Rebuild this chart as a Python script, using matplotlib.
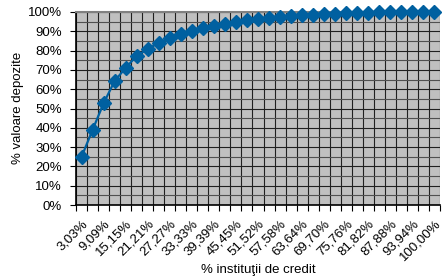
import numpy as np
import matplotlib.pyplot as plt
from matplotlib.ticker import MultipleLocator, FixedLocator
import matplotlib.transforms as mtransforms

plt.rcParams['font.family'] = ['Liberation Sans', 'DejaVu Sans']

# x categories: share of credit institutions (1/33 ... 33/33)
n_inst = 33
categories = [f"{100 * (i + 1) / n_inst:.2f}%".replace('.', ',') for i in range(n_inst)]

# cumulative share of deposit value (%)
deposit_share = [24.9, 38.9, 52.7, 64.2, 71.1, 77.2, 80.8, 84.1, 86.5, 88.5,
                 90.3, 91.8, 93.0, 94.0, 95.0, 95.8, 96.5, 97.1, 97.6, 98.0,
                 98.4, 98.7, 99.0, 99.2, 99.4, 99.6, 99.7, 99.8, 99.85, 99.9,
                 99.95, 99.98, 100.0]

y_ticks = list(range(0, 101, 10))
y_tick_labels = [f"{v}%" for v in y_ticks]

fs = 9.5

fig = plt.figure(figsize=(4.42, 2.80), dpi=100)
ax = fig.add_axes([76 / 442, 1 - 205 / 280, 364 / 442, 193 / 280])
ax.set_facecolor('#C0C0C0')

x = np.arange(n_inst)

# Grid: lines at category boundaries, horizontal every 5%
ax.set_xlim(-0.5, n_inst - 0.5)
ax.set_ylim(0, 100)
ax.xaxis.set_major_locator(FixedLocator(np.arange(-0.5, n_inst, 1)))
ax.xaxis.set_minor_locator(FixedLocator(x[::2]))
ax.yaxis.set_major_locator(FixedLocator(y_ticks))
ax.yaxis.set_minor_locator(MultipleLocator(5))
ax.grid(which='major', axis='both', color='#202020', linewidth=0.8)
ax.grid(which='minor', axis='y', color='#505050', linewidth=0.8)
ax.set_axisbelow(True)

ax.plot(x, deposit_share, color='#0060A0', linewidth=1.6, marker='D',
        markersize=7, clip_on=False, zorder=5)

# x ticks: marks at boundaries, labels at every other category
ax.set_xticklabels([])
ax.set_xticklabels(categories[::2], minor=True, rotation=45, ha='right',
                   va='top', rotation_mode='anchor', fontsize=fs)
offset = mtransforms.ScaledTranslation(-3 / 100, 0, fig.dpi_scale_trans)
for lbl in ax.xaxis.get_minorticklabels():
    lbl.set_transform(lbl.get_transform() + offset)
ax.tick_params(axis='x', which='major', direction='out', length=4, width=0.8)
ax.tick_params(axis='x', which='minor', length=0, pad=9)
ax.set_yticklabels(y_tick_labels, fontsize=fs)
ax.tick_params(axis='y', which='major', direction='out', length=4, width=0.8, pad=6)
ax.tick_params(axis='y', which='minor', length=0)

for side in ['left', 'bottom']:
    ax.spines[side].set_color('black')
    ax.spines[side].set_linewidth(1.2)
ax.spines['top'].set_color('#808080')
ax.spines['top'].set_linewidth(1.5)
ax.spines['right'].set_visible(False)

fig.text(258 / 442, 1 - 270 / 280, '% instituţii de credit', ha='center',
         va='center', fontsize=fs)
fig.text(18 / 442, 1 - 108 / 280, '% valoare depozite', ha='center',
         va='center', rotation=90, fontsize=fs)

fig.savefig('out.png', dpi=100)
plt.close(fig)
